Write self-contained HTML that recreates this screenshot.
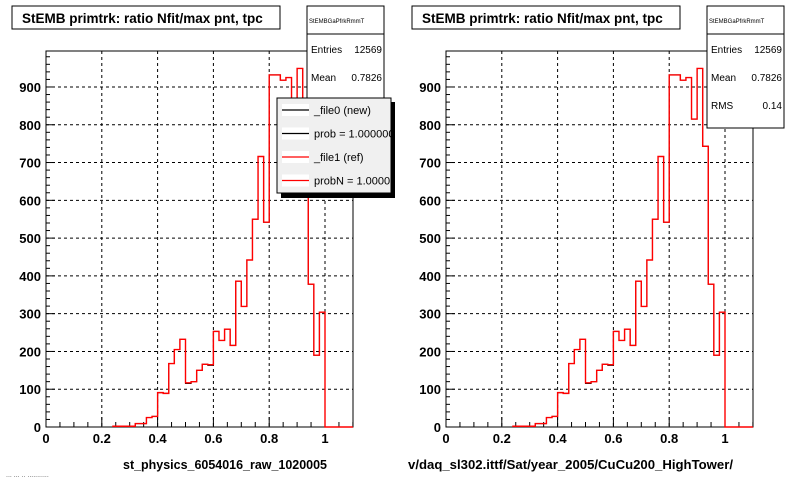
<!DOCTYPE html>
<html><head><meta charset="utf-8"><style>
body{margin:0;background:#fff;width:800px;height:480px;overflow:hidden}
svg{display:block}
text{font-family:"Liberation Sans",sans-serif}
</style></head><body>
<svg id="c" width="800" height="480" xmlns="http://www.w3.org/2000/svg"></svg>
<script>
const binStart = 0.24;
const binWidth = 0.02;
const counts = [2,2,2,2,9,9,25,28,91,89,168,205,232,115,120,150,166,163,253,229,259,216,386,319,442,550,716,542,932,932,918,925,815,949,743,378,190,304];
const countsRef = [2,2,2,2,9,9,25,28,91,89,168,205,232,117,120,150,166,165,253,229,259,216,386,319,442,550,716,542,932,932,918,925,815,949,743,378,190,304];
const xTicks = [0,0.2,0.4,0.6,0.8,1];
const xTickLabels = ["0","0.2","0.4","0.6","0.8","1"];
const yTicks = [0,100,200,300,400,500,600,700,800,900];
const yTickLabels = ["0","100","200","300","400","500","600","700","800","900"];
const NS="http://www.w3.org/2000/svg";
const svg=document.getElementById('c');
function mk(tag,attrs,parent,txt){const e=document.createElementNS(NS,tag);for(const k in attrs)e.setAttribute(k,attrs[k]);if(txt!==undefined)e.textContent=txt;(parent||svg).appendChild(e);return e;}
const Y0=427, YT=51, YMAX=(427-51)/0.3778;
function panel(ox,hasRMS,hasLegend,xtitle,tx0,tlen){
  const g=mk('g',{});
  
  
  const L=ox+46,R=ox+353;
  const xs=v=>L+v*279, ys=v=>Y0-v/YMAX*(Y0-YT);
  xTicks.forEach(t=>{if(t>0){const l=mk('line',{x1:xs(t),x2:xs(t),y1:YT,y2:Y0,stroke:'#000','stroke-dasharray':'3,3','stroke-width':1},g);}});
  yTicks.forEach(t=>{if(t>0){const l=mk('line',{x1:L,x2:R,y1:ys(t),y2:ys(t),stroke:'#000','stroke-dasharray':'3,3','stroke-width':1},g);}});
  const fr=mk('rect',{x:L,y:YT,width:R-L,height:Y0-YT,fill:'none',stroke:'#000','stroke-width':1},g);
  
  for(let v=0;v<=1.1001;v+=0.05){const big=Math.abs(v*5-Math.round(v*5))<1e-6;mk('line',{x1:xs(v),x2:xs(v),y1:Y0,y2:Y0-(big?10:5),stroke:'#000'},g);}
  for(let v=0;v<YMAX;v+=20){const big=v%100===0;mk('line',{x1:L,x2:L+(big?9:4),y1:ys(v),y2:ys(v),stroke:'#000'},g);}
  xTicks.forEach((t,i)=>{const tx=mk('text',{x:xs(t),y:443,'text-anchor':'middle','font-size':13,'font-weight':'bold'},g,xTickLabels[i]);});
  yTicks.forEach((t,i)=>{const tx=mk('text',{x:L-5,y:ys(t)+5,'text-anchor':'end','font-size':13,'font-weight':'bold','font-family':'"Liberation Serif",serif'},g,yTickLabels[i]);});
  function hist(data,color,name){
    let d=`M${xs(binStart)},${ys(0)}`;
    data.forEach((c,i)=>{const a=binStart+i*binWidth;d+=` L${xs(a)},${ys(c)} L${xs(a+binWidth)},${ys(c)}`;});
    d+=` L${xs(binStart+data.length*binWidth)},${ys(0)} L${xs(1.1)},${ys(0)}`;
    const p=mk('path',{d:d,fill:'none',stroke:color,'stroke-width':color==='#000'?1:1.4},g);
    
  }
  hist(counts,'#000','hist-file0-new');
  hist(countsRef,'#f00','hist-file1-ref');
  const tb=mk('rect',{x:ox+12,y:6,width:268,height:23,fill:'#fff',stroke:'#000'},g);
  
  const tt=mk('text',{x:ox+22,y:23,'font-size':13.5,'font-weight':'bold'},g,'StEMB primtrk: ratio Nfit/max pnt, tpc');
  
  const sb=mk('rect',{x:ox+307,y:6,width:77,height:122,fill:'#fff',stroke:'#000'},g);
  
  mk('line',{x1:ox+307,x2:ox+384,y1:34,y2:34,stroke:'#000'},g);
  mk('text',{x:ox+309,y:23,'font-size':6},g,'StEMBGaPfrkRmmT');
  mk('text',{x:ox+311,y:53,'font-size':10},g,'Entries');
  mk('text',{x:ox+382,y:53,'font-size':10,'text-anchor':'end'},g,'12569');
  mk('text',{x:ox+311,y:81,'font-size':10},g,'Mean');
  mk('text',{x:ox+382,y:81,'font-size':10,'text-anchor':'end'},g,'0.7826');
  mk('text',{x:ox+311,y:109,'font-size':10},g,'RMS');
  mk('text',{x:ox+382,y:109,'font-size':10,'text-anchor':'end'},g,'0.14');
  if(hasLegend){
    const lg=mk('g',{},g);
    mk('rect',{x:281,y:102,width:114,height:96,fill:'#000'},lg);
    mk('rect',{x:277,y:98,width:114,height:95,fill:'#f0f0f0',stroke:'#000'},lg);
    const items=[['_file0 (new)','#000'],['prob = 1.000000','#000'],['_file1 (ref)','#f00'],['probN = 1.000000','#f00']];
    const cl=mk('clipPath',{id:'lgclip'},lg);mk('rect',{x:277,y:98,width:114,height:95},cl);
    items.forEach((it,i)=>{const y=110+i*23.5;mk('rect',{x:282,y:y-6,width:27,height:12,fill:'#fff'},lg);
      mk('line',{x1:282,x2:309,y1:y,y2:y,stroke:it[1],'stroke-width':1.2},lg);
      const t=mk('text',{x:314,y:y+4,'font-size':11,'clip-path':'url(#lgclip)'},lg,it[0]);});
  }
  const xt=mk('text',{x:tx0,y:469,'font-size':12.5,'font-weight':'bold',textLength:tlen,lengthAdjust:'spacingAndGlyphs'},g,xtitle);
  
}
panel(0,false,true,'st_physics_6054016_raw_1020005',123,204);
panel(400,true,false,'v/daq_sl302.ittf/Sat/year_2005/CuCu200_HighTower/',408,325);
mk('rect',{x:395,y:0,width:10,height:90,fill:'#fff'});
mk('rect',{x:395,y:200,width:10,height:280,fill:'#fff'});
mk('text',{x:6,y:477,'font-size':7,fill:'#555'},svg,'... ... .. ...........');
</script>
</body></html>
